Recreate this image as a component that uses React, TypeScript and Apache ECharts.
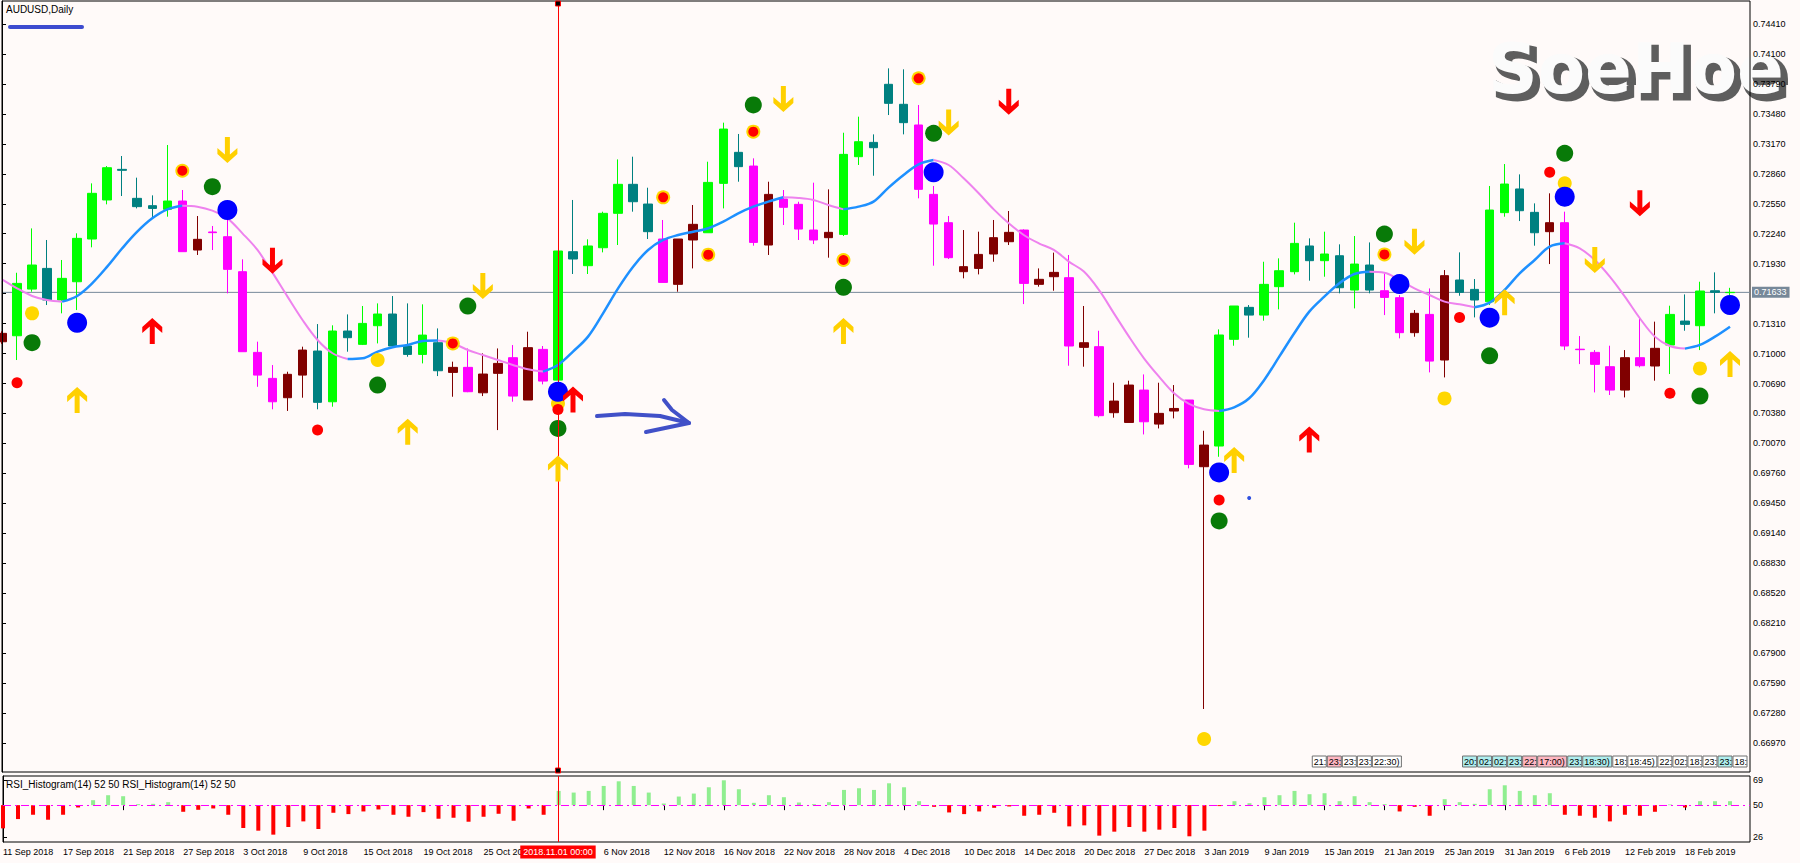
import React, { useEffect, useRef } from 'react';
import * as echarts from 'echarts';

const FONT = '"Liberation Sans", Arial, sans-serif';

// ---- x tick labels (every 4th daily bar) ----
const xTickLabels = [
  '11 Sep 2018', '17 Sep 2018', '21 Sep 2018', '27 Sep 2018', '3 Oct 2018', '9 Oct 2018',
  '15 Oct 2018', '19 Oct 2018', '25 Oct 2018', '31 Oct 2018', '6 Nov 2018', '12 Nov 2018',
  '16 Nov 2018', '22 Nov 2018', '28 Nov 2018', '4 Dec 2018', '10 Dec 2018', '14 Dec 2018',
  '20 Dec 2018', '27 Dec 2018', '3 Jan 2019', '9 Jan 2019', '15 Jan 2019', '21 Jan 2019',
  '25 Jan 2019', '31 Jan 2019', '6 Feb 2019', '12 Feb 2019', '18 Feb 2019',
];
const xTickIdx = xTickLabels.map((_, k) => k * 4);

// ---- price axis tick labels ----
const priceTicks = [
  0.6697, 0.6728, 0.6759, 0.679, 0.6821, 0.6852, 0.6883, 0.6914, 0.6945, 0.6976, 0.7007, 0.7038,
  0.7069, 0.71, 0.7131, 0.7162, 0.7193, 0.7224, 0.7255, 0.7286, 0.7317, 0.7348, 0.7379, 0.741, 0.7441,
];
const rsiTicks = [69, 50, 26];

// ---- candle colour codes: G bull/up-trend, T bear/up-trend, M bear/down-trend, R bull/down-trend ----
const candleKind = (
  'RGGTGGGGTT' + 'TGMRMMMMMR' + 'RTGTGGTTGT' + 'RMRRMRMGTG' + 'GGTTMRRGGT' + 'MRMMMRGGTT' +
  'TMMMRRRRMR' + 'RMRMRRMRRM' + 'RGGTGGGTGT' + 'GTMMRMRTTG' + 'GTTRMMMMRM' + 'RGTGTG'
).split('');

const open = [
  0.71122, 0.71184, 0.71667, 0.71881, 0.71554, 0.71743, 0.72185, 0.72589, 0.72906, 0.72606,
  0.7253, 0.72492, 0.72578, 0.72071, 0.72258, 0.72209, 0.71847, 0.71012, 0.70743, 0.70543,
  0.70777, 0.71026, 0.70501, 0.71233, 0.71095, 0.71288, 0.71409, 0.71078, 0.70991, 0.71112,
  0.70805, 0.70857, 0.70594, 0.70795, 0.70957, 0.70519, 0.71043, 0.70725, 0.72054, 0.71909,
  0.72095, 0.72451, 0.72751, 0.72547, 0.72185, 0.71716, 0.72175, 0.7225, 0.72761, 0.73082,
  0.7294, 0.72123, 0.72599, 0.72544, 0.72278, 0.72199, 0.72233, 0.73037, 0.73185, 0.73786,
  0.73579, 0.73365, 0.72647, 0.72354, 0.71847, 0.71881, 0.7203, 0.72157, 0.72278, 0.71716,
  0.71795, 0.71785, 0.71064, 0.71071, 0.70388, 0.70287, 0.70622, 0.7027, 0.70405, 0.70519,
  0.69829, 0.70043, 0.71147, 0.71478, 0.71398, 0.71692, 0.71847, 0.72113, 0.71961, 0.72012,
  0.71657, 0.71916, 0.7165, 0.71578, 0.71216, 0.71405, 0.70933, 0.71761, 0.71664, 0.71536,
  0.72458, 0.72703, 0.72461, 0.72261, 0.72354, 0.71045, 0.71012, 0.70864, 0.70622, 0.70957,
  0.70871, 0.71088, 0.71336, 0.71288, 0.7165, 0.7163,
];
const close = [
  0.71209, 0.71726, 0.71916, 0.71554, 0.71778, 0.72192, 0.72658, 0.72923, 0.72896, 0.7252,
  0.72502, 0.72578, 0.72054, 0.72182, 0.72251, 0.71871, 0.71019, 0.70777, 0.70501, 0.70785,
  0.71036, 0.70495, 0.71233, 0.71164, 0.71312, 0.71409, 0.71078, 0.70991, 0.71191, 0.70822,
  0.70857, 0.70605, 0.70788, 0.70898, 0.7056, 0.71061, 0.70715, 0.72061, 0.71978, 0.72113,
  0.72451, 0.72751, 0.72571, 0.72261, 0.71736, 0.72185, 0.72337, 0.72771, 0.73323, 0.72934,
  0.7215, 0.72647, 0.72513, 0.72288, 0.72175, 0.72254, 0.73061, 0.73192, 0.7313, 0.73589,
  0.73389, 0.72699, 0.7234, 0.71992, 0.71899, 0.72026, 0.72199, 0.72254, 0.71726, 0.71768,
  0.7184, 0.71078, 0.71112, 0.70357, 0.70508, 0.70674, 0.70294, 0.70381, 0.70432, 0.69853,
  0.70053, 0.71192, 0.71492, 0.71398, 0.71716, 0.71857, 0.7214, 0.71961, 0.7203, 0.71681,
  0.71926, 0.71657, 0.71581, 0.71216, 0.71416, 0.70922, 0.71806, 0.71633, 0.71554, 0.72485,
  0.72754, 0.72478, 0.7225, 0.72354, 0.71078, 0.7104, 0.70888, 0.70622, 0.70957, 0.70874,
  0.71054, 0.71405, 0.71302, 0.71647, 0.71633, 0.71633,
];
const low = [
  0.711, 0.70933, 0.7164, 0.71502, 0.71416, 0.7145, 0.72099, 0.72544, 0.7263, 0.72502,
  0.72399, 0.72416, 0.72054, 0.7202, 0.72071, 0.71623, 0.71019, 0.70656, 0.70423, 0.70406,
  0.70543, 0.70423, 0.7045, 0.71019, 0.71088, 0.71105, 0.71071, 0.70967, 0.70898, 0.70767,
  0.70553, 0.706, 0.7056, 0.70208, 0.70502, 0.70519, 0.70681, 0.70725, 0.71823, 0.71823,
  0.72047, 0.72123, 0.72468, 0.72185, 0.71736, 0.7164, 0.71881, 0.7225, 0.72502, 0.72778,
  0.72116, 0.7202, 0.7233, 0.72175, 0.72133, 0.71992, 0.72216, 0.72951, 0.7284, 0.73468,
  0.73268, 0.72606, 0.71909, 0.71978, 0.71778, 0.71819, 0.7195, 0.72123, 0.71512, 0.71692,
  0.7165, 0.70874, 0.70864, 0.7034, 0.70336, 0.70287, 0.70163, 0.70225, 0.70329, 0.69812,
  0.67322, 0.69932, 0.71081, 0.71164, 0.7134, 0.71457, 0.71819, 0.71754, 0.71795, 0.71623,
  0.71467, 0.71623, 0.71398, 0.71157, 0.71174, 0.70805, 0.70753, 0.71598, 0.71374, 0.71502,
  0.72416, 0.72371, 0.72116, 0.71926, 0.71036, 0.70891, 0.70598, 0.70571, 0.70546, 0.70857,
  0.70719, 0.70788, 0.71236, 0.71036, 0.71416, 0.716,
];
const high = [
  0.7123, 0.71836, 0.72295, 0.72175, 0.71968, 0.72244, 0.72761, 0.7294, 0.73044, 0.7282,
  0.72637, 0.73158, 0.72692, 0.72423, 0.7232, 0.72382, 0.71975, 0.71123, 0.70881, 0.70812,
  0.71071, 0.71305, 0.71292, 0.71405, 0.71492, 0.71519, 0.71595, 0.71519, 0.71509, 0.7126,
  0.70916, 0.71053, 0.71002, 0.71053, 0.71088, 0.71226, 0.71078, 0.72061, 0.72589, 0.72182,
  0.72468, 0.73009, 0.73037, 0.72716, 0.72382, 0.72185, 0.72537, 0.72985, 0.73389, 0.73272,
  0.7302, 0.72778, 0.72692, 0.72571, 0.72768, 0.72699, 0.73285, 0.73451, 0.73268, 0.73951,
  0.73941, 0.73572, 0.72734, 0.72423, 0.72278, 0.72261, 0.72382, 0.72475, 0.72285, 0.71881,
  0.72044, 0.7202, 0.71492, 0.71236, 0.70698, 0.70719, 0.70784, 0.70698, 0.70674, 0.70519,
  0.70201, 0.7125, 0.71492, 0.71502, 0.7195, 0.71985, 0.72354, 0.72192, 0.72261, 0.7213,
  0.72216, 0.7215, 0.7183, 0.71605, 0.7145, 0.71674, 0.71864, 0.72047, 0.71771, 0.72734,
  0.72961, 0.72854, 0.72554, 0.72658, 0.72468, 0.71181, 0.71036, 0.71081, 0.71036, 0.71364,
  0.7133, 0.71495, 0.71612, 0.71743, 0.7184, 0.7168,
];

// ---- smoothed moving average ----
const maLine = [
  0.71768, 0.71675, 0.71596, 0.71554, 0.71537, 0.71596, 0.71727, 0.71899, 0.72089, 0.72261,
  0.72399, 0.72492, 0.7253, 0.7252, 0.72479, 0.72399, 0.72244, 0.72072, 0.71837, 0.71589,
  0.71347, 0.7114, 0.71003, 0.70944, 0.70951, 0.7102, 0.71065, 0.71089, 0.7113, 0.71134,
  0.71106, 0.71037, 0.70985, 0.70933, 0.70882, 0.70837, 0.70813, 0.70882, 0.7102, 0.71175,
  0.71416, 0.71675, 0.71899, 0.72072, 0.72175, 0.72227, 0.72261, 0.72296, 0.72365, 0.72451,
  0.7252, 0.72572, 0.72617, 0.7261, 0.72589, 0.72537, 0.72492, 0.7252, 0.72572, 0.72717,
  0.72848, 0.72958, 0.73003, 0.72951, 0.72813, 0.72658, 0.72492, 0.72348, 0.72227, 0.72141,
  0.72072, 0.71951, 0.71848, 0.71658, 0.71416, 0.71175, 0.70951, 0.70761, 0.70589, 0.70478,
  0.70423, 0.70406, 0.70444, 0.70537, 0.70727, 0.70968, 0.7121, 0.71434, 0.71589, 0.71727,
  0.71823, 0.71847, 0.71837, 0.71761, 0.71675, 0.71606, 0.71537, 0.7151, 0.71478, 0.71527,
  0.71658, 0.7183, 0.71968, 0.72106, 0.72141, 0.72089, 0.71968, 0.71796, 0.71589, 0.71365,
  0.71175, 0.71078, 0.71051, 0.71089, 0.71175, 0.71278,
];

// ---- RSI histogram values ----
const rsiValues = [
  32.5, 39.5, 42.75, 39, 42.75, 48.25, 53.75, 57.5, 56.75, 50.75,
  51, 52.25, 45, 46.5, 47.5, 42.75, 32.75, 30.75, 27.75, 33.5,
  37.75, 32, 44.25, 43.25, 45.25, 46.75, 42.75, 41.25, 44.75, 39.75,
  40.5, 37.5, 41.25, 43.5, 38.25, 47.5, 42.75, 60.75, 59.5, 60.75,
  64.5, 68, 64.5, 59.5, 51.25, 56.5, 58.75, 63.5, 68.75, 62,
  51.75, 57.5, 56, 52, 50.75, 52.25, 61.5, 62.75, 61.5, 66.5,
  63.5, 53, 48.75, 44.5, 43.25, 45.25, 48, 49, 42, 42.75,
  44.25, 34, 34.75, 27, 30, 33.5, 30, 31.5, 32.75, 26.5,
  30.75, 49.3, 53, 51.5, 56, 57.5, 60.75, 58.25, 59, 53,
  56.75, 52.25, 50.75, 45.25, 48.75, 42, 54.5, 52.25, 51, 62,
  65, 60.75, 57.5, 59, 42.75, 42, 40.5, 37.75, 42.75, 42,
  45, 50.5, 48.25, 53, 53, 53,
];

// ---- signal markers [bar index, price] ----
const blueSignals = [[5, 0.71319], [15, 0.72485], [37, 0.70605], [62, 0.72875], [81, 0.6977], [93, 0.71719], [99, 0.71371], [104, 0.72623], [115, 0.71502]];
const greenSignals = [[2, 0.71112], [14, 0.72727], [25, 0.70674], [31, 0.71491], [37, 0.70225], [50, 0.73572], [56, 0.71685], [62, 0.73279], [81, 0.69268], [92, 0.72237], [99, 0.70977], [104, 0.73072], [113, 0.7056]];
const yellowSignals = [[2, 0.71416], [25, 0.70933], [37, 0.70484], [80, 0.67012], [96, 0.70536], [104, 0.72761], [113, 0.70846]];
const redSignals = [[1, 0.70698], [21, 0.70208], [37, 0.70422], [81, 0.69485], [97, 0.71374], [103, 0.72875], [111, 0.70588]];
const ringSignals = [[12, 0.72892], [30, 0.71105], [44, 0.72616], [47, 0.72023], [50, 0.73296], [56, 0.71968], [61, 0.73848], [92, 0.72026]];
const tinySignals = [[83, 0.69506]];
const yellowUp = [[5, 0.70519], [27, 0.70191], [37, 0.69811], [56, 0.71233], [82, 0.69898], [100, 0.7153], [115, 0.70891]];
const yellowDown = [[15, 0.73106], [32, 0.71698], [52, 0.73634], [63, 0.73392], [94, 0.72157], [106, 0.71968]];
const redUp = [[10, 0.71233], [38, 0.70525], [87, 0.70111]];
const redDown = [[18, 0.71961], [67, 0.73606], [109, 0.72554]];

const currentPrice = 0.71633;
const markedBar = 37;
const markedLabel = '2018.11.01 00:00';

const timeBoxes: [number, string, string, number][] = [
  [87, '21:', '#FFFFFF', 1], [88, '23:', '#FFB6C1', 1], [89, '23:', '#FFFFFF', 1], [90, '23:', '#FFFFFF', 1], [91, '22:30)', '#FFFFFF', 2],
  [97, '20:', '#AFEEEE', 1], [98, '02:', '#AFEEEE', 1], [99, '02:', '#AFEEEE', 1], [100, '23:', '#AFEEEE', 1], [101, '22:', '#FFB6C1', 1],
  [102, '17:00)', '#FFB6C1', 2], [104, '23:', '#AFEEEE', 1], [105, '18:30)', '#AFEEEE', 2], [107, '18:', '#FFFFFF', 1], [108, '18:45)', '#FFFFFF', 2],
  [110, '22:', '#FFFFFF', 1], [111, '02:', '#FFFFFF', 1], [112, '18:', '#FFFFFF', 1], [113, '23:', '#FFFFFF', 1], [114, '23:', '#AFEEEE', 1], [115, '18:', '#FFFFFF', 1],
];

const KIND_COLOR: Record<string, string> = { G: '#00FF00', T: '#008080', M: '#FF00FF', R: '#800000' };
const ARROW = 'path://M10 0L20 9L20 15L12.5 8.5L12.5 26L7.5 26L7.5 8.5L0 15L0 9Z';

const XMAX = 116.33;
const YMAX = 0.74648;
const YMIN = 0.6667;
const RSI_MAX = 22.0;
const RSI_MIN = -27.8;

function buildOption(): any {
  const candles = open.map((o, i) => {
    const c = KIND_COLOR[candleKind[i]];
    return {
      value: [i, o, close[i], low[i], high[i]],
      itemStyle: { color: c, color0: c, borderColor: c, borderColor0: c, borderWidth: 1 },
    };
  });

  // split MA into rising (blue) / falling (violet) runs
  const runs: { start: number; end: number; up: boolean }[] = [];
  let start = 0;
  let dir = maLine[1] >= maLine[0];
  for (let i = 2; i < maLine.length; i++) {
    const d = maLine[i] >= maLine[i - 1];
    if (d !== dir) {
      runs.push({ start, end: i - 1, up: dir });
      start = i - 1;
      dir = d;
    }
  }
  runs.push({ start, end: maLine.length - 1, up: dir });
  const maSeries = runs.map((r) => ({
    type: 'line',
    xAxisIndex: 0,
    yAxisIndex: 0,
    data: maLine.slice(r.start, r.end + 1).map((v, k) => [r.start + k, v]),
    showSymbol: false,
    smooth: 0.35,
    lineStyle: { color: r.up ? '#1E90FF' : '#EE82EE', width: r.up ? 2.5 : 2 },
    z: 3,
    silent: true,
  }));

  const scatter = (data: number[][], color: string, size: any, z: number, extra: any = {}) => ({
    type: 'scatter',
    xAxisIndex: 0,
    yAxisIndex: 0,
    data,
    symbol: 'circle',
    symbolSize: size,
    itemStyle: { color, opacity: 1 },
    z,
    silent: true,
    ...extra,
  });

  return {
    animation: false,
    backgroundColor: '#FFFAF9',
    textStyle: { fontFamily: FONT },
    grid: [
      { left: 2, top: 1, width: 1748, height: 771, show: true, borderColor: '#000', borderWidth: 1, backgroundColor: 'transparent' },
      { left: 2, top: 776, width: 1748, height: 66, show: true, borderColor: '#000', borderWidth: 1, backgroundColor: 'transparent' },
    ],
    xAxis: [
      {
        type: 'value', gridIndex: 0, min: 0, max: XMAX,
        axisLine: { show: false }, axisTick: { show: false }, axisLabel: { show: false }, splitLine: { show: false },
      },
      {
        type: 'value', gridIndex: 1, min: 0, max: XMAX,
        axisLine: { show: false },
        axisTick: { show: true, customValues: xTickIdx, length: 5, lineStyle: { color: '#000' } },
        axisLabel: {
          show: true, customValues: xTickIdx.filter((v) => v !== markedBar - 1), align: 'left', margin: 5, fontSize: 9, color: '#000', fontFamily: FONT,
          formatter: (v: number) => xTickLabels[Math.round(v / 4)] || '',
        },
        splitLine: { show: false },
      },
    ],
    yAxis: [
      {
        type: 'value', gridIndex: 0, position: 'right', min: YMIN, max: YMAX, z: 5,
        axisLine: { show: true, lineStyle: { color: '#000' } },
        axisTick: { show: true, customValues: priceTicks, length: 4, lineStyle: { color: '#000' } },
        axisLabel: {
          show: true, customValues: priceTicks, margin: 3, fontSize: 9, color: '#000', fontFamily: FONT,
          formatter: (v: number) => v.toFixed(5),
        },
        splitLine: { show: false },
      },
      {
        type: 'value', gridIndex: 1, position: 'right', min: RSI_MIN, max: RSI_MAX,
        axisLine: { show: true, lineStyle: { color: '#000' } },
        axisTick: { show: true, customValues: rsiTicks.map((v) => v - 50), length: 4, lineStyle: { color: '#000' } },
        axisLabel: {
          show: true, customValues: rsiTicks.map((v) => v - 50), margin: 3, fontSize: 9, color: '#000', fontFamily: FONT,
          formatter: (v: number) => String(Math.round(v + 50)),
        },
        splitLine: { show: false },
      },
    ],
    series: [
      {
        // current price line
        type: 'line',
        xAxisIndex: 0,
        yAxisIndex: 0,
        data: [[0, currentPrice], [XMAX, currentPrice]],
        showSymbol: false,
        lineStyle: { color: '#778899', width: 1 },
        z: 1,
        silent: true,
      },
      {
        type: 'candlestick',
        xAxisIndex: 0,
        yAxisIndex: 0,
        encode: { x: 0, y: [1, 2, 3, 4] },
        barWidth: 9,
        data: candles,
        z: 2,
        silent: true,
        markLine: {
          silent: true,
          symbol: 'none',
          label: { show: false },
          animation: false,
          data: [{ xAxis: markedBar, lineStyle: { color: '#FF0000', width: 1, type: 'solid' } }],
        },
      },
      ...maSeries,
      scatter(greenSignals, '#087A08', 17, 4),
      scatter(yellowSignals, '#FFD700', 14, 5),
      scatter(ringSignals, '#FFD700', 14, 5),
      scatter(ringSignals, '#FF0000', 10, 6),
      scatter(redSignals, '#FF0000', 11, 6),
      scatter(tinySignals, '#3050E0', 4, 6),
      scatter(blueSignals, '#0000FF', 20, 7),
      scatter(yellowUp, '#FFD000', [20, 26], 8, { symbol: ARROW }),
      scatter(yellowDown, '#FFD000', [20, 26], 8, { symbol: ARROW, symbolRotate: 180 }),
      scatter(redUp, '#FF0000', [20, 26], 8, { symbol: ARROW }),
      scatter(redDown, '#FF0000', [20, 26], 8, { symbol: ARROW, symbolRotate: 180 }),
      {
        type: 'bar',
        xAxisIndex: 1,
        yAxisIndex: 1,
        barWidth: 4,
        silent: true,
        data: rsiValues.map((v, i) => ({ value: [i, v - 50], itemStyle: { color: v >= 50 ? '#90EE90' : '#FF0000' } })),
        markLine: {
          silent: true,
          symbol: 'none',
          label: { show: false },
          animation: false,
          data: [
            { yAxis: 0, lineStyle: { color: '#FF00FF', width: 1, type: [8, 4, 2, 4] } },
            { xAxis: markedBar, lineStyle: { color: '#FF0000', width: 1, type: 'solid' } },
          ],
        },
      },
    ],
  };
}

function txt(x: number, y: number, text: string, font: string, fill: string, extra: any = {}, el: any = {}) {
  return {
    type: 'text',
    x,
    y,
    ...el,
    style: {
      text,
      font,
      fill,
      textAlign: 'left',
      align: 'left',
      textVerticalAlign: 'middle',
      verticalAlign: 'middle',
      ...extra,
    },
  };
}

export default function App() {
  const ref = useRef<HTMLDivElement>(null);
  useEffect(() => {
    const chart = echarts.init(ref.current!, null, { renderer: 'svg' });
    chart.setOption(buildOption());

    const toPx = (i: number, p: number) => chart.convertToPixel({ gridIndex: 0 } as any, [i, p]) as number[];
    const xAt = (i: number) => toPx(i, 0.72)[0];
    const priceY = toPx(0, currentPrice)[1];
    const mx = xAt(markedBar);

    const els: any[] = [];
    // title + blue drawing line
    els.push(txt(6, 9, 'AUDUSD,Daily', `10px ${FONT}`, '#000', {}, { z: 100 }));
    els.push({ type: 'line', z: 100, shape: { x1: 10, y1: 27, x2: 82, y2: 27 }, style: { stroke: '#3D4BCF', lineWidth: 4, lineCap: 'round' } });
    els.push(txt(6, 784, 'RSI_Histogram(14) 52 50 RSI_Histogram(14) 52 50', `10px ${FONT}`, '#000', {}, { z: 100 }));

    // logo: grey extruded shadow, white face (kept beneath the axis labels)
    const logoFont = `bold 69px "DejaVu Sans", sans-serif`;
    els.push(txt(1493, 74, 'SoeHoe', logoFont, '#5E5E5E', { stroke: '#5E5E5E', lineWidth: 5 }, { z: -2 }));
    els.push(txt(1488, 69, 'SoeHoe', logoFont, '#FBFBFB', {}, { z: -1 }));

    // current price label
    els.push(txt(1752, priceY, currentPrice.toFixed(5), `9px ${FONT}`, '#FFFFFF', { backgroundColor: '#778899', padding: [1, 3, 1, 2] }, { z: 100 }));

    // marked bar: date label and squares
    els.push(txt(mx, 852, markedLabel, `9px ${FONT}`, '#FFFFFF', { textAlign: 'center', align: 'center', backgroundColor: '#FF0000', padding: [2, 3, 2, 3] }, { z: 100 }));
    els.push({ type: 'rect', z: 100, shape: { x: mx - 2.5, y: 1, width: 5, height: 5 }, style: { fill: '#000', stroke: '#FF0000', lineWidth: 1 } });
    els.push({ type: 'rect', z: 100, shape: { x: mx - 2.5, y: 768, width: 5, height: 5 }, style: { fill: '#000', stroke: '#FF0000', lineWidth: 1 } });

    // time boxes
    timeBoxes.forEach(([i, t, bg, span]) => {
      const x0 = xAt(i) + 3;
      const w = span * 15 - 1;
      els.push({ type: 'rect', z: 90, shape: { x: x0, y: 756, width: w, height: 11 }, style: { fill: bg, stroke: '#707070', lineWidth: 1 } });
      els.push(txt(x0 + 1.5, 761.5, t, `9px ${FONT}`, '#000', {}, { z: 91 }));
    });

    // hand-drawn arrow
    els.push({ type: 'polyline', z: 100, shape: { points: [[597, 416], [625, 414], [660, 416], [689, 423]] }, style: { stroke: '#4150C8', lineWidth: 4, lineCap: 'round', lineJoin: 'round', fill: null } });
    els.push({ type: 'polyline', z: 100, shape: { points: [[664, 400], [672, 410], [689, 423], [646, 432]] }, style: { stroke: '#4150C8', lineWidth: 4, lineCap: 'round', lineJoin: 'round', fill: null } });

    chart.setOption({ graphic: { elements: els } });
    return () => chart.dispose();
  }, []);
  return <div ref={ref} style={{ position: 'fixed', left: 0, top: 0, width: 1800, height: 863 }} />;
}
